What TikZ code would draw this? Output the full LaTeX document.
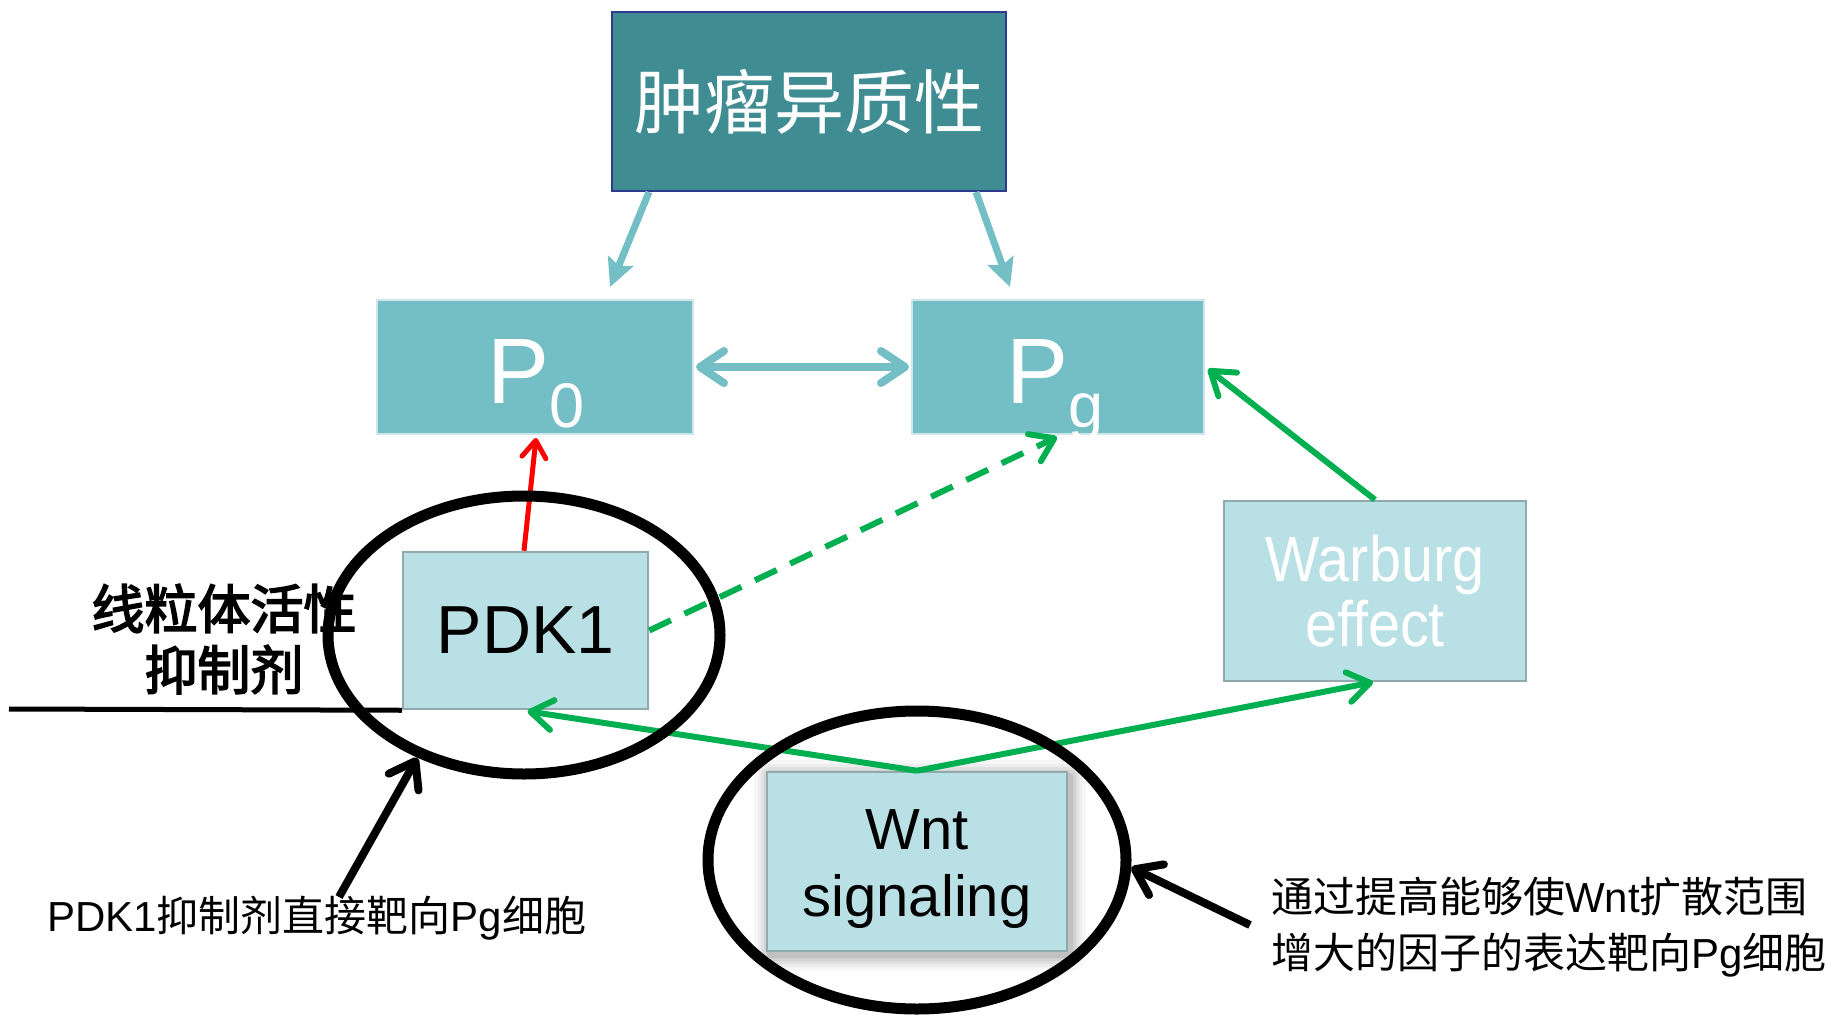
\documentclass[tikz,border=0pt]{standalone}
\usepackage{fontspec}
\setmainfont{Liberation Sans}
\newfontfamily\zh{Noto Sans CJK SC}
\newfontfamily\zhheavy[FakeBold=3]{Noto Sans CJK SC}
\newfontfamily\narrowsans[FakeStretch=0.9]{Liberation Sans}
\usetikzlibrary{arrows.meta,shapes.geometric,calc}

\definecolor{deepteal}{HTML}{3F8C93}
\definecolor{frameblue}{HTML}{2E3A8C}
\definecolor{midteal}{HTML}{74BFC6}
\definecolor{midedge}{HTML}{CDE6EA}
\definecolor{paleteal}{HTML}{B9E0E4}
\definecolor{paleedge}{HTML}{8FA9AD}
\definecolor{sigreen}{HTML}{00B050}

\newcommand\setpx[1]{\fontsize{#1}{#1}\selectfont}

\tikzset{
  titlebox/.style={rectangle, fill=deepteal, draw=frameblue, line width=2pt,
    minimum width=394pt, minimum height=179pt, inner sep=0pt, text=white},
  popbox/.style={rectangle, fill=midteal, draw=midedge, line width=2pt,
    minimum height=134pt, inner sep=0pt},
  palebox/.style={rectangle, fill=paleteal, draw=paleedge, line width=2.5pt,
    inner sep=0pt, align=center},
  ptext/.style={anchor=base west, text=white, font=\setpx{93}, inner sep=0pt},
  ring/.style={ellipse, draw=black, line width=11pt, inner sep=0pt},
  tealarrow/.style={draw=midteal, line width=7pt,
    -{Stealth[length=28pt,width=27pt,inset=5pt]}},
  swap/.style={draw=midteal, line width=8pt,
    {Straight Barb[length=24pt,width=32pt,round]}-{Straight Barb[length=24pt,width=32pt,round]}},
  greenarrow/.style={draw=sigreen, line width=6pt,
    -{Straight Barb[length=22pt,width=30pt,round]}},
  redarrow/.style={draw=red, line width=5pt,
    -{Straight Barb[length=17pt,width=24pt,round]}},
  blackarrow/.style={draw=black, line width=8pt,
    -{Straight Barb[length=24pt,width=34pt,round]}},
}

\begin{document}
\begin{tikzpicture}[x=1pt,y=-1pt]
  \useasboundingbox (0,0) rectangle (1835,1014);
  \fill[white] (0,0) rectangle (1835,1014);

  % soft shadow under the Wnt box
  \foreach \s/\o in {16/0.03,12/0.04,9/0.05,6/0.06,3/0.08}{
    \fill[black, opacity=\o, rounded corners=\s pt]
      (767-\s+3,772-\s+4) rectangle (1067+\s+3,951+\s+4);
  }

  % boxes
  \node[titlebox] (top) at (809,101.5) {\zh\setpx{70}肿瘤异质性};
  \node[popbox, minimum width=316pt] (p0) at (535,367) {};
  \node[popbox, minimum width=292pt] (pg) at (1058,367) {};
  \node[ptext] (p0t) at (487,403) {P\raisebox{-24pt}{\setpx{63}0}};
  \node[ptext] (pgt) at (1006,403) {P\raisebox{-24pt}{\setpx{63}g}};
  \node[palebox, minimum width=245pt, minimum height=157pt,
        font=\setpx{68}] (pdk) at (525.5,630.5) {PDK1};
  \node[palebox, minimum width=302pt, minimum height=180pt, text=white,
        font=\narrowsans\fontsize{64}{65}\selectfont] (warb) at (1375,591) {Warburg\\effect};
  \node[palebox, minimum width=300pt, minimum height=179pt] (wnt) at (917,861.5) {};
  \node[font=\fontsize{58}{67}\selectfont, align=center, inner sep=0pt]
    (wntt) at ([yshift=-8pt]wnt.center) {Wnt\\signaling};

  % side labels
  \node[font=\zhheavy\fontsize{53}{61}\selectfont, align=center, inner sep=0pt]
    (inh) at (224,639) {线粒体活性\\抑制剂};
  \node[font=\setpx{42}, anchor=west, inner sep=0pt] (noteL) at (47,918)
    {PDK1{\zh 抑制剂直接靶向}Pg{\zh 细胞}};
  \node[font=\fontsize{42}{56}\selectfont, anchor=west, align=left, inner sep=0pt]
    (noteR) at (1271,927)
    {{\zh 通过提高能够使}Wnt{\zh 扩散范围}\\{\zh 增大的因子的表达靶向}Pg{\zh 细胞}};

  % connectors
  \draw[tealarrow] ([xshift=38pt]top.south west) -- ([xshift=234pt,yshift=12pt]p0.north west);
  \draw[tealarrow] ([xshift=-31pt]top.south east) -- ([xshift=99pt,yshift=12pt]pg.north west);
  \draw[swap] ([xshift=2pt]p0.east) -- ([xshift=-2pt]pg.west);
  \draw[redarrow] ([xshift=-1.5pt]pdk.north) -- ([xshift=1pt,yshift=-3pt]p0.south);
  \draw[greenarrow, dash pattern=on 24pt off 15pt] (pdk.east) -- ([xshift=-1pt,yshift=-2pt]pg.south);
  \draw[greenarrow] (warb.north) -- ([xshift=3pt,yshift=-2pt]pg.east);
  \draw[greenarrow] (wnt.north) -- ([xshift=2pt,yshift=-1pt]pdk.south);
  \draw[greenarrow] (wnt.north) -- ([xshift=-2pt]warb.south);

  % inhibitor bar
  \coordinate (barend) at (9,709);
  \draw[line width=5pt] (barend) -- (pdk.south west);

  % rings and pointers
  \node[ring, minimum width=392pt, minimum height=278pt] (ring1) at (524,635) {};
  \node[ring, minimum width=418pt, minimum height=298pt] (ring2) at (917,860) {};
  \coordinate (ptrL) at (339,897);
  \coordinate (ptrR) at (1250,925);
  \draw[blackarrow] (ptrL) -- (ring1.-131);
  \draw[blackarrow] (ptrR) -- (ring2.-2);
\end{tikzpicture}
\end{document}
